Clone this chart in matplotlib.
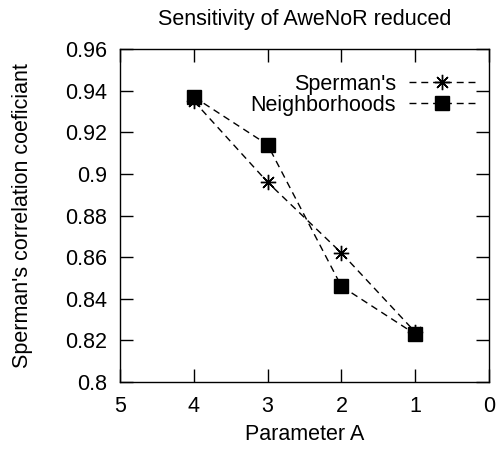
import matplotlib
matplotlib.use("Agg")
import matplotlib.pyplot as plt

plt.rcParams['font.family'] = ['Liberation Sans', 'DejaVu Sans']

param_a = [4, 3, 2, 1]
spermans = [0.935, 0.896, 0.862, 0.824]
neighborhoods = [0.937, 0.914, 0.846, 0.823]

fs = 15.5

fig = plt.figure(figsize=(4.96, 4.49), dpi=100)
ax = fig.add_axes([120 / 496, 1 - 382 / 449, 369 / 496, 333 / 449])

ax.plot(param_a, spermans, linestyle=(0, (5, 3.5)), color='black', lw=1,
        marker=(8, 2, 0), markersize=11, markeredgewidth=1, label="Sperman's")
ax.plot(param_a, neighborhoods, linestyle=(0, (5, 3.5)), color='black', lw=1,
        marker='s', markersize=10, label='Neighborhoods')

ax.set_xlim(5, 0)
ax.set_ylim(0.8, 0.96)
ax.set_xticks([5, 4, 3, 2, 1, 0])
ax.set_yticks([0.8, 0.82, 0.84, 0.86, 0.88, 0.9, 0.92, 0.94, 0.96])
ax.set_yticklabels(['0.8', '0.82', '0.84', '0.86', '0.88', '0.9', '0.92', '0.94', '0.96'])
ax.tick_params(direction='in', length=9.5, width=1, top=True, right=True,
               labelsize=fs)
ax.tick_params(axis='x', pad=10)
ax.tick_params(axis='y', pad=9)
for s in ax.spines.values():
    s.set_linewidth(1)

ax.set_title('Sensitivity of AweNoR reduced', fontsize=fs, pad=17)
ax.set_xlabel('Parameter A', fontsize=fs)
ax.set_ylabel("Sperman's correlation coeficiant", fontsize=fs)
ax.xaxis.set_label_coords(0.5, (382 - 424) / 333)
ax.yaxis.set_label_coords((33 - 120) / 369, 0.5)

ax.legend(loc='upper right', frameon=False, markerfirst=False, fontsize=fs,
          handlelength=3.1, handletextpad=0.6, borderaxespad=0.0,
          labelspacing=0.0, bbox_to_anchor=(1 - 5 / 369, 1 - 16 / 333))

fig.savefig('out.png', dpi=100)
